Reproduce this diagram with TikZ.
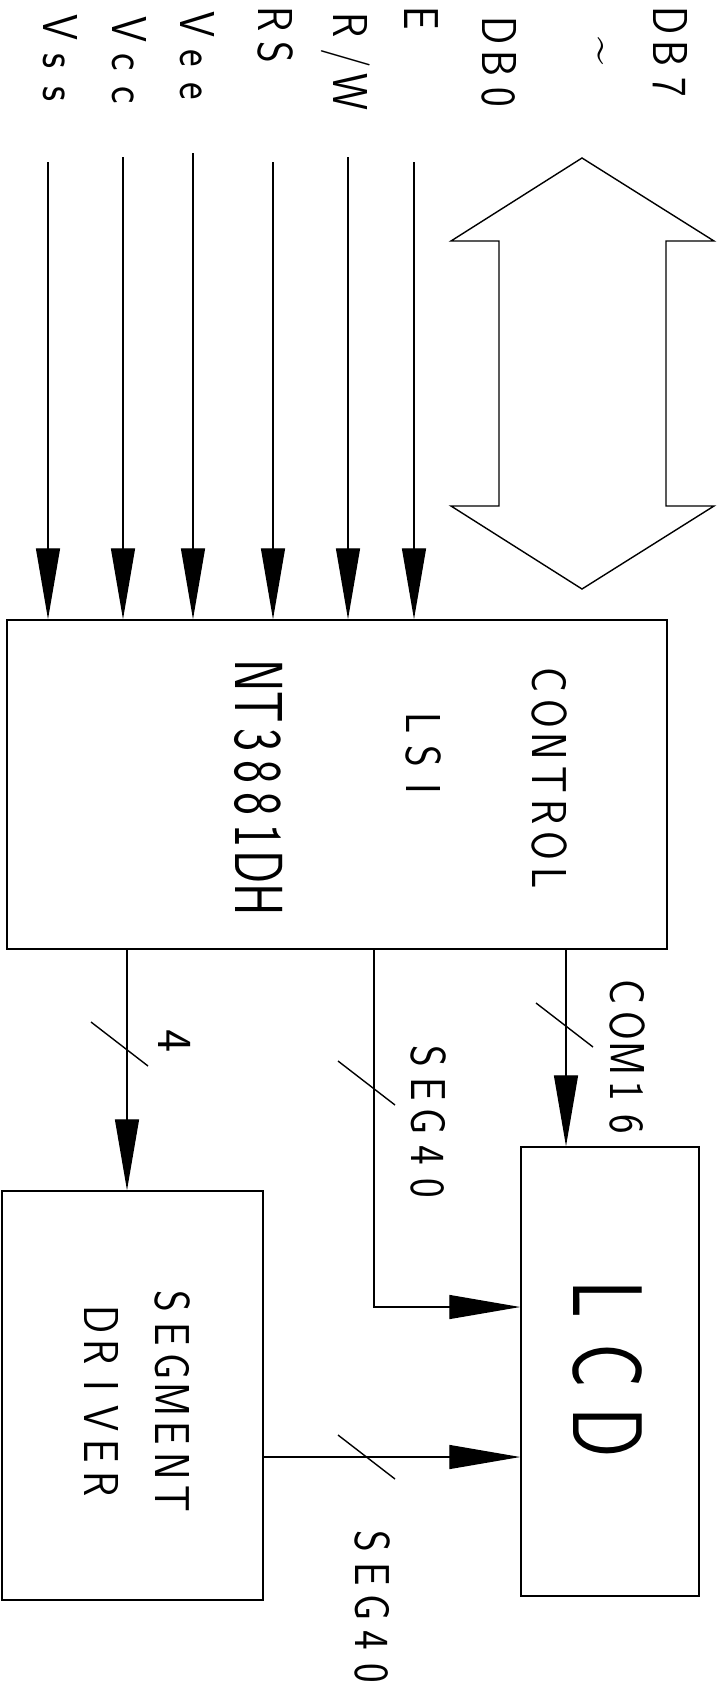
\documentclass[tikz,border=0pt]{standalone}
\usepackage{fontspec}
\usepackage{graphicx}
\usetikzlibrary{arrows.meta}
\newlength\cadp
\def\cadsx{0.85}
\def\cadloop#1{\ifx#1\relax\else\hbox to\cadp{\hss\scalebox{\cadsx}[1]{#1}\hss}\expandafter\cadloop\fi}
\newcommand\cadtxt[3][0.85]{\def\cadsx{#1}\setlength\cadp{#2}\cadloop#3\relax}
\tikzset{
  lbl/.style={inner sep=0, anchor=base, rotate=-90, font=\sffamily\fontsize{49pt}{49pt}\selectfont},
  biglbl/.style={lbl, font=\sffamily\fontsize{68pt}{68pt}\selectfont},
  hugelbl/.style={lbl, font=\sffamily\fontsize{99pt}{99pt}\selectfont},
  box/.style={draw, line width=1.5pt, inner sep=0},
  wire/.style={line width=1.4pt},
  arr/.style={wire, -{Triangle[length=71pt,width=24pt]}},
}
\begin{document}
\begin{tikzpicture}[x=1pt,y=-1pt]
\useasboundingbox (0,0) rectangle (716,1691);
\fill[white] (0,0) rectangle (716,1691);
% boxes
\node[box, minimum width=660pt, minimum height=329pt] (ctrl) at (337,784.5) {};
\node[box, minimum width=261pt, minimum height=409pt] (seg) at (132.5,1395.5) {};
\node[box, minimum width=178pt, minimum height=449pt] (lcd) at (610,1371.5) {};
% top labels
\node[lbl] (tVss) at (43,60.5) {\cadtxt{33pt}{Vss}};
\node[lbl] (tVcc) at (112,62.5) {\cadtxt{33pt}{Vcc}};
\node[lbl] (tVee) at (180,58) {\cadtxt{33pt}{Vee}};
\node[lbl] (tRS) at (258,36) {\cadtxt{33pt}{RS}};
\node[lbl] (tRW) at (333,58.5) {\cadtxt{33pt}{R/W}};
\node[lbl] (tE) at (404,18.5) {\cadtxt{33pt}{E}};
\node[lbl] (tDB0) at (482,64) {\cadtxt{33pt}{DB0}};
\node[lbl] (tTil) at (588,51) {\textasciitilde};
\node[lbl] (tDB7) at (653,54) {\cadtxt{33pt}{DB7}};
% inputs
\coordinate (iVss) at (48,162);
\coordinate (iVcc) at (123,157);
\coordinate (iVee) at (193,153);
\coordinate (iRS) at (273,162);
\coordinate (iRW) at (348,157);
\coordinate (iE) at (414,162);
\foreach \c in {iVss,iVcc,iVee,iRS,iRW,iE}
  \draw[arr] (\c) -- (\c |- ctrl.north);
% data bus double arrow
\draw[wire, line join=miter] (582,158) -- (714,241) -- (666,241) -- (666,506) -- (714,506)
  -- (582,589) -- (451,506) -- (499,506) -- (499,241) -- (451,241) -- cycle;
% control box text
\node[lbl] (tCtl) at (532,779.5) {\cadtxt{33pt}{CONTROL}};
\node[lbl] (tLSI) at (406,756) {\cadtxt{33pt}{LSI}};
\node[biglbl] (tNT) at (235,787.5) {\cadtxt[0.72]{32pt}{NT3881DH}};
% outputs
\coordinate (c4) at (127,0);
\coordinate (cS) at (374,0);
\coordinate (cC) at (566,0);
\coordinate (ySeg) at (0,1307);
\coordinate (yDrv) at (0,1457);
\draw[arr] (c4 |- ctrl.south) -- (c4 |- seg.north);
\draw[arr] (cS |- ctrl.south) |- (ySeg -| lcd.west);
\draw[arr] (cC |- ctrl.south) -- (cC |- lcd.north);
\draw[arr] (yDrv -| seg.east) -- (yDrv -| lcd.west);
% bus slashes
\draw[wire] (91,1022) -- (148,1066);
\draw[wire] (338,1061) -- (395,1105);
\draw[wire] (536,1003) -- (593,1047);
\draw[wire] (338,1435) -- (395,1479);
% bus labels
\node[lbl] (t4) at (158,1041) {4};
\node[lbl] (tSeg1) at (411,1122) {\cadtxt{33pt}{SEG40}};
\node[lbl] (tCom) at (610,1058.5) {\cadtxt{33pt}{COM16}};
\node[lbl] (tSeg2) at (355,1607.5) {\cadtxt{33pt}{SEG40}};
% driver and lcd text
\node[lbl] (tSg) at (155,1400) {\cadtxt{33pt}{SEGMENT}};
\node[lbl] (tDr) at (84,1402) {\cadtxt{33pt}{DRIVER}};
\node[hugelbl] (tLCD) at (573,1366) {\cadtxt[0.75]{66.5pt}{LCD}};
\end{tikzpicture}
\end{document}
